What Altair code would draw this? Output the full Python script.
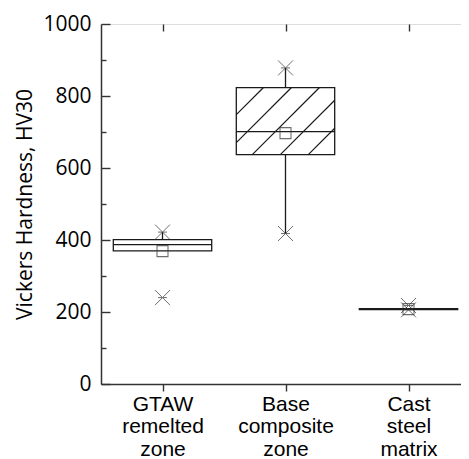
import altair as alt
import pandas as pd

# ---- data ----
categories = ["GTAW remelted zone", "Base composite zone", "Cast steel matrix"]
label_lines = [["GTAW", "remelted", "zone"], ["Base", "composite", "zone"], ["Cast", "steel", "matrix"]]
positions = [1, 2, 3]
q1 = [370, 637, 207]
q3 = [401, 823, 209]
median = [387, 701, 208]
mean = [369, 697, 208]
whisker_low = [370, 418, 208]
whisker_high = [422, 878, 208]
extremes = [[422, 240], [878, 418], [218, 206]]
hatched = [False, True, False]
y_major = [0, 200, 400, 600, 800, 1000]
y_minor = [100, 300, 500, 700, 900]

# ---- layout / style ----
W, H = 369, 360
HALF = 0.4
XDOM = [0.5, 3.5]
YDOM = [0, 1000]
INK = "#1a1a1a"
px_x = W / (XDOM[1] - XDOM[0])
px_y = H / (YDOM[1] - YDOM[0])
HATCH_SPACING = 28
HATCH_PHASE = 16

boxes = pd.DataFrame({
    "cat": categories, "pos": positions,
    "x0": [p - HALF for p in positions], "x1": [p + HALF for p in positions],
    "q1": q1, "q3": q3, "median": median, "mean": mean,
    "wlo": whisker_low, "whi": whisker_high,
})

marks_rows = []
for p, ex in zip(positions, extremes):
    for v in ex:
        marks_rows.append({"pos": p, "v": v})
marks_df = pd.DataFrame(marks_rows)

# hatch segments (45 degree lines clipped to the box)
hatch_rows = []
for p, a, b, h in zip(positions, q1, q3, hatched):
    if not h:
        continue
    bw = 2 * HALF * px_x
    bh = (b - a) * px_y
    c = HATCH_PHASE
    while c - HATCH_SPACING > -bh:
        c -= HATCH_SPACING
    while c < bw:
        if c >= 0:
            u0, v0 = c, 0.0
        else:
            u0, v0 = 0.0, -c
        if c + bh <= bw:
            u1, v1 = c + bh, bh
        else:
            u1, v1 = bw, bw - c
        hatch_rows.append({
            "xa": p - HALF + u0 / px_x, "xb": p - HALF + u1 / px_x,
            "ya": a + v0 / px_y, "yb": a + v1 / px_y,
        })
        c += HATCH_SPACING
hatch_df = pd.DataFrame(hatch_rows)

xs = alt.Scale(domain=XDOM, nice=False, zero=False)
ys = alt.Scale(domain=YDOM, nice=False, zero=False)

base = alt.Chart(boxes)

rects = base.mark_rect(fill="white", stroke=INK, strokeWidth=1.3).encode(
    x=alt.X("x0:Q", scale=xs, axis=None), x2="x1:Q",
    y=alt.Y("q1:Q", scale=ys, axis=None), y2="q3:Q",
)
hatch = alt.Chart(hatch_df).mark_rule(color=INK, strokeWidth=1.2).encode(
    x=alt.X("xa:Q", scale=xs, axis=None), x2="xb:Q",
    y=alt.Y("ya:Q", scale=ys, axis=None), y2="yb:Q",
)
med = base.mark_rule(color=INK, strokeWidth=1.3).encode(
    x=alt.X("x0:Q", scale=xs, axis=None), x2="x1:Q",
    y=alt.Y("median:Q", scale=ys, axis=None),
)
w_hi = base.mark_rule(color=INK, strokeWidth=1.3).encode(
    x=alt.X("pos:Q", scale=xs, axis=None),
    y=alt.Y("q3:Q", scale=ys, axis=None), y2="whi:Q",
)
w_lo = base.mark_rule(color=INK, strokeWidth=1.3).encode(
    x=alt.X("pos:Q", scale=xs, axis=None),
    y=alt.Y("wlo:Q", scale=ys, axis=None), y2="q1:Q",
)
xmarks = alt.Chart(marks_df).mark_point(
    shape="M-1,-1L1,1M-1,1L1,-1M-0.6,0L0.6,0", size=225, stroke="#333", strokeWidth=1, filled=False
).encode(
    x=alt.X("pos:Q", scale=xs, axis=None),
    y=alt.Y("v:Q", scale=ys, axis=None),
)
means = base.mark_point(shape="square", size=121, stroke="#333", strokeWidth=1.1, filled=False).encode(
    x=alt.X("pos:Q", scale=xs, axis=None),
    y=alt.Y("mean:Q", scale=ys, axis=None),
)

# ---- axes as invisible layers ----
dummy = alt.Chart(pd.DataFrame({"xv": [1.0], "yv": [0.0]}))
AX = dict(domainColor="#333", domainWidth=1.5, tickColor="#333", tickWidth=1.4, grid=False)
TK = {k: v for k, v in AX.items() if not k.startswith("domain")}

label_expr = " : ".join(
    f"datum.value == {p} ? {l!r}" for p, l in zip(positions[:-1], label_lines[:-1])
) + f" : {label_lines[-1]!r}"

x_bottom = dummy.mark_point(opacity=0).encode(
    x=alt.X("xv:Q", scale=xs, axis=alt.Axis(
        orient="bottom", values=positions, title=None, tickSize=7,
        labelExpr=label_expr, labelFont="Liberation Sans", labelFontSize=21,
        labelColor="black", labelLineHeight=22.5, labelPadding=2, labelBaseline="top", **AX)),
)
x_top = dummy.mark_point(opacity=0).encode(
    x=alt.X("xv:Q", scale=xs, axis=alt.Axis(
        orient="bottom", offset=-H, values=positions, title=None, tickSize=7,
        labels=False, domain=False, **TK)),
)
y_left = dummy.mark_point(opacity=0).encode(
    y=alt.Y("yv:Q", scale=ys, axis=alt.Axis(
        orient="left", values=y_major, ticks=False, title="Vickers Hardness, HV30", format="d",
        labelFont="Open Sans", labelFontSize=21, labelColor="black", labelPadding=10,
        titleFont="Open Sans", titleFontSize=21, titleFontWeight="normal", titleColor="black",
        titlePadding=7, **AX)),
)
y_in_major_l = dummy.mark_point(opacity=0).encode(
    y=alt.Y("yv:Q", scale=ys, axis=alt.Axis(orient="right", offset=-W, values=y_major, tickSize=9,
                                            labels=False, domain=False, title=None, **TK)),
)
y_in_minor_l = dummy.mark_point(opacity=0).encode(
    y=alt.Y("yv:Q", scale=ys, axis=alt.Axis(orient="right", offset=-W, values=y_minor, tickSize=5,
                                            labels=False, domain=False, title=None, **TK)),
)
y_in_major_r = dummy.mark_point(opacity=0).encode(
    y=alt.Y("yv:Q", scale=ys, axis=alt.Axis(orient="left", offset=-W, values=y_major, tickSize=9,
                                            labels=False, domain=False, title=None, **TK)),
)
y_in_minor_r = dummy.mark_point(opacity=0).encode(
    y=alt.Y("yv:Q", scale=ys, axis=alt.Axis(orient="left", offset=-W, values=y_minor, tickSize=5,
                                            labels=False, domain=False, title=None, **TK)),
)

chart = alt.layer(
    rects, hatch, med, w_hi, w_lo, xmarks, means,
    x_bottom, x_top, y_left, y_in_major_l, y_in_minor_l, y_in_major_r, y_in_minor_r,
).resolve_axis(x="independent", y="independent").properties(
    width=W, height=H,
    autosize=alt.AutoSizeParams(type="none"),
    padding={"left": 93, "top": 16, "right": -9, "bottom": 75},
).configure_view(stroke="#333", strokeWidth=1.5).configure(background="white")

chart.save("out.html", embed_options={"renderer": "svg", "actions": False})
